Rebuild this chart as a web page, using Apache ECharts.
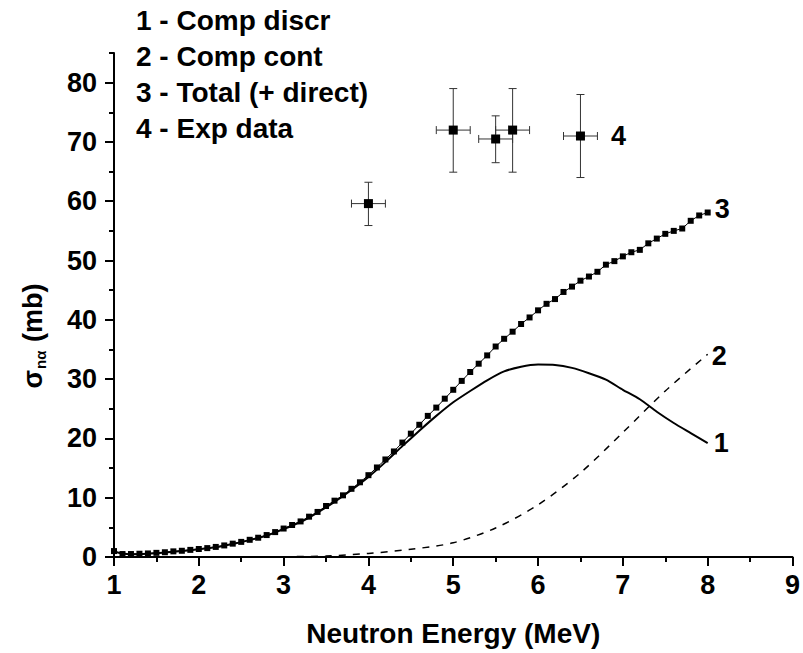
<!DOCTYPE html>
<html>
<head>
<meta charset="utf-8">
<script src="https://cdn.jsdelivr.net/npm/echarts@6/dist/echarts.min.js"></script>
<style>
  html, body { margin: 0; padding: 0; background: #fff; }
  #main { width: 803px; height: 653px; }
</style>
</head>
<body>
<div id="main"></div>
<script>
// curve 3: total (+ direct), squares every 0.1 MeV
var totalE = [1.0, 1.1, 1.2, 1.3, 1.4, 1.5, 1.6, 1.7, 1.8, 1.9,
              2.0, 2.1, 2.2, 2.3, 2.4, 2.5, 2.6, 2.7, 2.8, 2.9,
              3.0, 3.1, 3.2, 3.3, 3.4, 3.5, 3.6, 3.7, 3.8, 3.9,
              4.0, 4.1, 4.2, 4.3, 4.4, 4.5, 4.6, 4.7, 4.8, 4.9,
              5.0, 5.1, 5.2, 5.3, 5.4, 5.5, 5.6, 5.7, 5.8, 5.9,
              6.0, 6.1, 6.2, 6.3, 6.4, 6.5, 6.6, 6.7, 6.8, 6.9,
              7.0, 7.1, 7.2, 7.3, 7.4, 7.5, 7.6, 7.7, 7.8, 7.9, 8.0];
var totalSigma = [1.0, 0.5, 0.5, 0.55, 0.6, 0.7, 0.8, 0.95, 1.05, 1.2,
                  1.35, 1.5, 1.7, 1.95, 2.25, 2.55, 2.9, 3.25, 3.7, 4.2,
                  4.8, 5.4, 6.0, 6.8, 7.6, 8.6, 9.5, 10.4, 11.5, 12.6,
                  13.8, 15.1, 16.45, 17.8, 19.3, 20.8, 22.3, 23.8, 25.2, 26.7,
                  28.2, 29.7, 31.2, 32.6, 34.0, 35.5, 36.8, 38.0, 39.3, 40.4,
                  41.6, 42.7, 43.5, 44.7, 45.6, 46.6, 47.3, 48.1, 49.3, 49.9,
                  50.7, 51.4, 51.8, 52.9, 53.7, 54.5, 55.0, 55.4, 56.7, 57.6, 58.1];

// curve 1: compound discrete
var discrE = [1.0, 1.2, 1.4, 1.6, 1.8, 2.0, 2.2, 2.4, 2.6, 2.8,
              3.0, 3.2, 3.4, 3.6, 3.8, 4.0, 4.2, 4.4, 4.6, 4.8,
              5.0, 5.2, 5.4, 5.6, 5.8, 6.0, 6.2, 6.4, 6.6, 6.8,
              7.0, 7.2, 7.4, 7.6, 7.8, 8.0];
var discrSigma = [0.9, 0.45, 0.55, 0.75, 1.0, 1.3, 1.65, 2.2, 2.85, 3.6,
                  4.7, 5.9, 7.5, 9.3, 11.3, 13.5, 16.0, 18.7, 21.3, 23.8,
                  26.1, 28.0, 29.8, 31.3, 32.1, 32.45, 32.4, 31.9, 31.0, 29.9,
                  28.2, 26.6, 24.5, 22.6, 20.9, 19.2];

// curve 2: compound continuum
var contE = [2.0, 2.5, 3.0, 3.5, 4.0, 4.5, 5.0, 5.5, 6.0, 6.5, 7.0, 7.5, 8.0];
var contSigma = [0, 0.02, 0.05, 0.15, 0.6, 1.3, 2.4, 4.9, 8.8, 14.2, 21.0, 28.0, 34.2];

// 4: experimental data with error bars
var expE = [4.0, 5.0, 5.5, 5.7, 6.5];
var expSigma = [59.6, 72.0, 70.5, 72.0, 71.0];
var expEErr = [0.2, 0.2, 0.2, 0.2, 0.2];
var expSigmaLo = [55.9, 64.9, 66.5, 64.9, 64.0];
var expSigmaHi = [63.2, 79.0, 74.4, 79.0, 78.0];

var xTicks = [1, 2, 3, 4, 5, 6, 7, 8, 9];
var yTicks = [0, 10, 20, 30, 40, 50, 60, 70, 80];
var yMinorTicks = [5, 15, 25, 35, 45, 55, 65, 75, 85];

var legendLines = ['1 - Comp discr', '2 - Comp cont', '3 - Total (+ direct)', '4 - Exp data'];

var FONT = "'Liberation Sans', Arial, sans-serif";

function pairs(xs, ys) {
  return xs.map(function (x, i) { return [x, ys[i]]; });
}

var errData = expE.map(function (e, i) {
  return [e, expSigma[i], e - expEErr[i], e + expEErr[i], expSigmaLo[i], expSigmaHi[i]];
});

var myChart = echarts.init(document.getElementById('main'), null, { renderer: 'svg' });

var option = {
  animation: false,
  backgroundColor: '#fff',
  textStyle: { fontFamily: FONT },
  grid: { left: 114, right: 7, top: 53, bottom: 96 },
  graphic: [
    {
      type: 'text', left: 136, top: 2,
      style: {
        text: legendLines.join('\n'),
        font: 'bold 28px ' + FONT, lineHeight: 36, fill: '#000'
      }
    },
    {
      type: 'text', x: 33, y: 336, rotation: Math.PI / 2,
      style: {
        text: '{s|σ}{sub|nα}{s| (mb)}',
        align: 'center', verticalAlign: 'middle',
        rich: {
          s: { fontFamily: FONT, fontWeight: 'bold', fontSize: 27, fill: '#000', lineHeight: 30 },
          sub: { fontFamily: FONT, fontWeight: 'bold', fontSize: 15, fill: '#000', verticalAlign: 'bottom', lineHeight: 30, padding: [0, 1, 0, 1] }
        }
      }
    }
  ],
  xAxis: {
    type: 'value', min: 1, max: 9, interval: 1,
    name: 'Neutron Energy (MeV)', nameLocation: 'middle', nameGap: 62,
    nameTextStyle: { fontFamily: FONT, fontWeight: 'bold', fontSize: 28, color: '#000' },
    axisLine: { onZero: false, lineStyle: { color: '#000', width: 2 } },
    axisTick: { inside: false, length: 9, lineStyle: { color: '#000', width: 2 } },
    minorTick: { show: true, splitNumber: 2, length: 5, lineStyle: { color: '#000', width: 2 } },
    axisLabel: {
      customValues: xTicks, margin: 14,
      fontFamily: FONT, fontWeight: 'bold', fontSize: 27, color: '#000'
    },
    splitLine: { show: false }
  },
  yAxis: [
    {
      type: 'value', min: 0, max: 85, position: 'left',
      axisLine: { show: true, onZero: false, lineStyle: { color: '#000', width: 2 } },
      axisTick: { show: true, customValues: yTicks, inside: false, length: 9, lineStyle: { color: '#000', width: 2 } },
      axisLabel: {
        customValues: yTicks, margin: 17,
        fontFamily: FONT, fontWeight: 'bold', fontSize: 27, color: '#000'
      },
      splitLine: { show: false }
    },
    {
      type: 'value', min: 0, max: 85, position: 'left',
      axisLine: { show: false },
      axisTick: { show: true, customValues: yMinorTicks, inside: false, length: 5, lineStyle: { color: '#000', width: 2 } },
      axisLabel: { show: false },
      splitLine: { show: false }
    }
  ],
  series: [
    {
      name: 'Comp discr', type: 'line', data: pairs(discrE, discrSigma),
      showSymbol: false, smooth: 0.2,
      lineStyle: { color: '#000', width: 2 },
      endLabel: { show: true, formatter: '1', distance: 6, color: '#000', fontFamily: FONT, fontWeight: 'bold', fontSize: 27 },
      z: 2
    },
    {
      name: 'Comp cont', type: 'line', data: pairs(contE, contSigma),
      showSymbol: false, smooth: 0.3,
      lineStyle: { color: '#000', width: 1.5, type: [7, 7] },
      endLabel: { show: true, formatter: '2', distance: 4, offset: [0, 2], color: '#000', fontFamily: FONT, fontWeight: 'bold', fontSize: 27 },
      z: 2
    },
    {
      name: 'Total', type: 'line', data: pairs(totalE, totalSigma),
      symbol: 'rect', symbolSize: 6, showAllSymbol: true,
      itemStyle: { color: '#000' },
      lineStyle: { color: '#000', width: 1 },
      endLabel: { show: true, formatter: '3', distance: 7, offset: [0, -4], color: '#000', fontFamily: FONT, fontWeight: 'bold', fontSize: 27 },
      z: 3
    },
    {
      name: 'Exp err', type: 'custom', data: errData,
      renderItem: function (params, api) {
        var l = api.coord([api.value(2), api.value(1)]);
        var r = api.coord([api.value(3), api.value(1)]);
        var b = api.coord([api.value(0), api.value(4)]);
        var t = api.coord([api.value(0), api.value(5)]);
        var cap = 4;
        var st = { stroke: '#333', lineWidth: 1 };
        return {
          type: 'group',
          children: [
            { type: 'line', shape: { x1: l[0], y1: l[1], x2: r[0], y2: r[1] }, style: st },
            { type: 'line', shape: { x1: b[0], y1: b[1], x2: t[0], y2: t[1] }, style: st },
            { type: 'line', shape: { x1: l[0], y1: l[1] - cap, x2: l[0], y2: l[1] + cap }, style: st },
            { type: 'line', shape: { x1: r[0], y1: r[1] - cap, x2: r[0], y2: r[1] + cap }, style: st },
            { type: 'line', shape: { x1: t[0] - cap, y1: t[1], x2: t[0] + cap, y2: t[1] }, style: st },
            { type: 'line', shape: { x1: b[0] - cap, y1: b[1], x2: b[0] + cap, y2: b[1] }, style: st }
          ]
        };
      },
      z: 4
    },
    {
      name: 'Exp data', type: 'scatter', data: pairs(expE, expSigma),
      symbol: 'rect', symbolSize: 9,
      itemStyle: { color: '#000', opacity: 1 },
      label: {
        show: true, position: 'right', distance: 26,
        formatter: function (p) { return p.dataIndex === expE.length - 1 ? '4' : ''; },
        color: '#000', fontFamily: FONT, fontWeight: 'bold', fontSize: 27
      },
      z: 5
    }
  ]
};
myChart.setOption(option);
</script>
</body>
</html>
